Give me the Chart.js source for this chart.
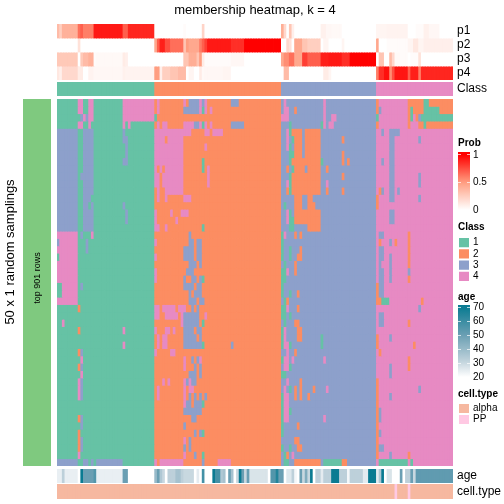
<!DOCTYPE html>
<html>
<head>
<meta charset="utf-8">
<style>
  html, body { margin: 0; padding: 0; background: #fff; }
  #page { position: relative; width: 504px; height: 504px; overflow: hidden; }
  canvas { position: absolute; }
</style>
<script src="https://cdn.jsdelivr.net/npm/chart.js@4/dist/chart.umd.min.js"></script>
</head>
<body>
<div id="page"></div>
<script>
// all run lists are value,endColumn,value,endColumn,...
const annotationNames = ['p1', 'p2', 'p3', 'p4']

const p1Runs = [.35,1,.25,2,.4,8,.65,9,.7,10,.6,14,.92,25,.7,27,.88,37,0,48,.02,49,0,55,.22,56,0,85,.42,86,.2,87,0,88,.3,89,.08,90,0,100,.07,102,.04,104,.03,108,0,121,.05,125,.06,133,0,136,.02,139,.07,141,.04,145,0,150]
const p2Runs = [0,8,.15,9,0,37,.45,38,.7,39,.9,41,.75,43,.65,48,.3,49,.5,50,.45,54,.6,55,.7,56,.8,57,.92,66,.85,71,1,85,0,87,.2,88,.15,89,0,90,.45,93,.3,95,.25,100,0,101,.05,103,0,108,.05,109,0,121,.45,122,0,125,.02,133,.05,135,.12,137,.05,139,.08,150]
const p3Runs = [.28,8,0,9,.28,10,.35,12,.4,14,.02,15,.03,25,.1,26,.08,27,0,48,.3,50,.42,53,.3,54,.5,55,.1,56,.02,66,.04,71,0,85,.45,86,.55,88,.65,90,.45,93,.8,95,.7,100,.9,103,.92,108,.85,111,1,121,0,122,.3,124,0,126,.35,127,.2,128,.03,130,.02,133,0,134,.02,137,.15,138,0,150]
const p4Runs = [.12,1,.08,2,.2,8,.1,10,0,12,.06,14,.04,25,.07,26,.06,37,.5,39,.08,40,.25,43,.3,46,.35,49,0,50,.05,52,0,54,.1,55,.03,56,.04,63,.05,66,0,86,.35,88,0,101,.1,103,.05,104,0,121,.6,122,.85,124,.95,126,.55,127,.75,128,.93,133,.7,134,.9,137,.6,138,.88,150]
const classRuns = [1,37,2,85,3,121,4,150]
const ageRuns = [24,2,32,3,24,8,20,9,70,10,50,14,55,15,24,25,50,27,20,37,40,38,50,39,35,40,30,41,20,42,32,45,37,47,32,48,30,52,20,53,25,54,20,55,58,56,20,59,70,60,58,62,35,63,37,64,20,65,50,66,37,67,20,68,30,69,70,70,50,71,30,72,50,73,27,80,20,81,55,83,65,84,50,86,20,87,26,89,32,90,22,91,20,92,50,93,30,94,45,95,30,96,70,97,20,98,32,100,25,101,32,104,70,107,32,110,22,111,32,116,25,118,70,121,25,122,35,123,70,124,20,125,27,127,20,130,50,131,20,132,32,134,50,135,30,136,52,150]
const cellTypeRuns = [0,128,1,129,0,133,1,134,0,150]

// one line per sampling, top to bottom, predicted class of each sample
const memberRuns = [
  [1,8,4,10,1,12,4,14,1,25,4,37,2,38,4,39,2,48,4,49,2,50,3,54,4,55,3,56,4,57,2,66,3,69,2,85,3,86,4,87,3,101,4,102,3,121,2,122,4,133,2,139,1,141,2,150],
  [1,8,4,10,1,12,4,14,1,25,4,37,2,38,4,39,2,48,3,54,4,55,1,56,4,57,2,58,4,59,2,85,3,86,4,88,3,90,2,91,3,101,4,102,3,121,2,122,3,123,4,133,2,134,1,135,2,139,1,145,2,150],
  [1,9,3,10,4,11,3,12,4,14,1,25,4,37,1,38,2,85,4,88,3,101,4,102,3,104,4,106,3,121,1,122,4,133,2,134,1,135,4,136,2,137,3,138,1,150],
  [1,8,4,10,1,12,4,13,1,25,4,26,1,27,4,28,1,37,2,38,4,39,2,40,4,42,2,48,4,52,3,54,4,55,1,56,4,57,2,58,4,59,2,66,3,71,2,85,3,88,1,89,3,100,1,101,4,102,3,103,4,105,3,121,2,122,4,133,2,134,4,137,2,139,1,140,2,150],
  [3,8,1,10,3,14,1,25,3,26,1,37,4,51,2,56,4,58,2,59,4,63,2,85,3,87,4,88,1,89,2,93,3,94,2,100,3,121,4,123,3,124,4,126,3,130,4,150],
  [3,8,1,10,3,14,1,25,3,27,1,37,4,41,2,42,4,48,2,85,3,87,4,88,3,89,1,90,2,93,3,94,2,100,3,108,2,109,3,121,4,126,3,128,4,137,3,138,4,150],
  [3,8,1,10,3,14,1,26,3,27,1,37,4,48,2,56,4,57,2,85,3,87,4,88,1,89,3,90,2,93,3,94,2,100,3,121,4,126,3,128,4,150],
  [3,8,1,10,3,14,1,26,3,27,1,37,4,48,2,85,3,88,1,90,2,93,3,94,2,100,3,108,2,109,3,121,4,126,3,128,4,150],
  [3,8,1,10,3,14,1,25,3,27,1,37,4,48,2,55,1,56,2,85,3,88,1,89,2,100,1,101,3,108,2,109,3,110,2,111,3,121,4,123,3,124,4,126,3,128,4,150],
  [3,8,1,10,3,14,1,37,4,38,2,39,4,40,2,41,4,48,2,55,1,56,2,57,4,58,2,85,3,87,2,88,3,89,1,90,2,94,3,95,2,100,3,102,2,103,3,121,4,126,3,128,4,150],
  [3,8,1,9,3,14,1,37,4,39,2,40,4,48,2,57,4,58,2,85,3,88,1,89,2,100,3,108,2,109,3,121,4,126,3,128,4,137,3,138,4,150],
  [3,8,1,10,3,14,1,37,4,39,2,40,4,48,2,57,4,58,2,85,3,87,4,88,1,89,2,100,3,102,4,103,3,121,4,126,3,128,4,137,3,138,4,150],
  [3,8,1,10,3,14,1,37,2,38,4,39,2,41,4,48,2,85,3,87,2,88,1,89,2,100,3,102,2,103,3,108,2,109,3,121,4,122,2,123,3,124,4,126,3,128,4,129,3,130,4,150],
  [3,8,1,10,3,13,1,37,2,38,4,39,2,41,4,42,2,48,4,51,2,85,3,90,2,93,3,95,2,97,3,121,2,122,4,126,3,128,4,137,3,138,4,150],
  [3,8,1,10,3,12,1,13,3,14,1,25,3,26,1,37,2,85,3,86,1,87,3,90,2,93,3,95,2,98,3,121,2,122,4,150],
  [3,8,1,10,3,14,1,26,3,27,1,37,4,38,2,43,4,44,2,47,4,50,2,85,3,87,4,88,1,89,3,90,2,100,3,121,4,126,3,128,4,150],
  [3,8,1,10,3,14,1,26,3,27,1,37,4,38,2,45,4,46,2,85,3,87,4,88,1,90,2,100,3,121,4,126,3,128,4,150],
  [3,8,1,10,3,14,1,37,4,39,2,41,4,42,2,55,1,56,2,85,3,88,1,90,3,95,2,100,3,121,4,150],
  [4,8,1,9,3,10,1,13,4,14,1,37,2,50,3,51,2,85,1,86,4,87,3,90,2,91,3,92,2,93,3,121,4,122,3,124,4,133,2,134,4,150],
  [3,1,4,8,1,11,3,12,1,37,4,38,2,50,3,52,2,53,3,55,2,85,1,86,3,121,4,122,2,123,4,126,3,127,4,128,2,129,4,133,2,134,4,150],
  [4,8,1,11,3,12,1,37,2,48,3,52,2,53,3,55,2,85,1,86,3,88,1,89,3,92,2,93,3,121,4,122,3,124,4,133,2,134,4,150],
  [1,1,4,8,1,37,4,38,2,48,3,52,2,53,3,55,2,85,1,86,3,88,1,89,3,91,2,93,3,121,4,122,3,124,4,126,3,127,4,133,2,134,4,150],
  [4,8,1,37,2,50,3,53,2,54,3,55,2,85,3,86,1,87,3,90,2,91,3,121,4,122,3,123,4,126,3,127,4,133,2,134,4,150],
  [4,8,1,37,4,38,2,49,3,52,2,85,1,87,4,88,3,90,2,91,3,121,4,122,3,124,4,126,3,127,4,133,3,134,4,150],
  [4,8,1,37,4,38,2,48,3,49,2,51,3,53,2,54,3,55,1,56,2,85,1,87,3,121,4,122,3,124,4,126,3,127,4,133,2,134,4,150],
  [1,2,4,8,1,9,3,10,1,37,2,48,3,52,2,53,3,55,2,85,1,86,3,121,2,122,3,124,4,150],
  [1,2,4,8,1,37,2,50,3,51,2,52,3,55,2,85,1,86,3,88,1,89,3,91,2,92,3,121,2,122,3,124,4,150],
  [4,8,1,37,2,50,3,53,2,54,3,56,2,85,3,86,1,87,2,88,3,121,2,123,1,126,4,138,2,139,4,150],
  [1,8,2,9,1,37,4,39,2,40,4,45,2,46,4,49,2,51,3,52,2,53,3,54,2,85,1,87,4,88,3,91,2,92,3,121,4,137,3,138,4,150],
  [1,37,4,39,2,41,4,46,2,47,4,48,3,54,2,56,4,57,2,85,1,87,3,88,1,89,3,121,4,122,3,124,4,150],
  [1,2,4,3,1,37,2,47,4,48,3,54,2,55,1,56,2,85,3,86,1,87,3,90,2,92,3,121,4,122,3,124,4,133,2,134,4,150],
  [1,8,2,9,1,25,4,26,1,37,4,38,2,41,4,43,2,44,4,45,2,48,3,52,2,53,3,55,2,85,1,86,4,87,3,91,2,93,3,121,4,150],
  [1,37,2,38,4,39,2,40,4,42,2,48,3,53,2,54,3,55,2,85,1,86,4,87,3,91,2,93,3,100,1,101,3,121,2,122,4,126,3,127,4,150],
  [1,25,4,26,1,37,2,38,4,39,2,40,4,42,2,48,3,55,1,56,2,66,3,67,2,85,1,86,4,88,1,89,3,100,1,101,3,121,2,122,4,135,2,136,4,150],
  [1,8,2,9,3,10,1,37,4,38,2,43,4,45,2,85,3,87,4,88,3,90,2,91,3,121,4,122,2,123,4,150],
  [1,9,4,10,1,37,2,48,4,49,2,51,3,52,2,53,3,54,4,55,2,85,1,86,4,88,3,89,4,90,3,101,4,102,3,121,4,133,2,134,4,150],
  [1,8,2,9,3,10,1,37,2,48,4,49,2,52,3,53,2,54,3,55,2,85,3,86,4,88,1,89,3,121,4,126,3,127,4,133,2,134,4,150],
  [1,9,4,10,1,37,2,50,3,53,2,54,3,55,2,85,1,87,3,121,4,126,3,127,4,150],
  [1,8,4,9,3,10,1,37,2,40,4,41,2,42,4,43,2,48,4,49,3,50,4,51,3,53,2,85,3,87,4,88,3,92,2,93,3,121,2,122,4,150],
  [1,8,4,9,3,10,1,37,2,38,4,39,2,48,4,49,2,50,4,52,2,85,3,86,4,87,3,88,1,89,3,90,2,91,3,92,2,93,3,97,2,98,3,102,4,103,3,121,2,122,4,137,3,138,4,150],
  [1,8,4,9,3,10,1,37,2,38,4,39,2,48,4,49,2,50,3,51,2,52,3,53,2,54,3,55,2,56,3,57,2,85,1,86,4,88,3,90,2,91,3,92,2,93,3,95,2,96,3,121,2,122,4,126,3,127,4,150],
  [1,37,2,48,4,49,3,51,2,52,3,55,1,56,2,85,1,86,4,88,3,121,2,122,4,150],
  [1,37,2,48,3,55,2,85,1,86,4,88,1,89,3,121,2,122,3,123,4,150],
  [1,8,2,9,3,10,1,37,2,51,3,53,2,85,1,86,4,88,3,101,4,102,3,121,2,122,3,123,4,150],
  [1,9,3,10,1,37,2,48,3,49,2,85,1,86,3,91,2,92,3,121,2,122,4,150],
  [1,8,2,9,1,37,2,52,3,53,2,54,3,55,1,56,2,85,1,86,3,121,2,122,3,123,4,150],
  [1,8,2,9,3,10,1,37,2,48,4,49,2,50,3,51,2,85,3,90,2,92,3,121,2,122,4,150],
  [1,8,2,9,3,10,1,37,2,48,3,49,2,50,3,51,2,85,1,86,3,88,1,89,3,91,2,93,3,121,2,122,3,124,4,150],
  [1,8,4,9,1,37,2,48,4,49,2,52,3,53,2,55,1,56,2,85,3,86,1,87,2,88,3,89,4,90,3,121,2,122,4,126,3,127,4,133,2,134,4,150],
  [3,8,1,10,3,12,1,13,3,14,1,15,3,25,1,37,4,38,2,39,4,48,2,55,3,56,2,61,4,66,2,85,3,86,1,88,3,90,2,100,3,101,1,108,2,110,3,121,4,122,1,133,4,134,1,135,4,150]
]

const classNames = ['1', '2', '3', '4']
const cellTypeNames = ['alpha', 'PP']
const probTicks = 0.5
const ageTicks = 10

const classColors = { 1: '#66C2A5', 2: '#FC8D62', 3: '#8DA0CB', 4: '#E78AC3' }
const cellTypeColors = { 0: '#F6B8A0', 1: '#FFC9E3' }
const probStops = [[0, [255, 255, 255]], [0.5, [255, 158, 129]], [1, [255, 0, 0]]]
const ageStops = [[0, [255, 255, 255]], [0.24, [189, 208, 218]], [0.6, [106, 159, 179]], [1, [10, 123, 146]]]

Chart.defaults.font.family = '"Liberation Sans", Arial, sans-serif'
Chart.defaults.color = '#000'
Chart.defaults.animation = false
Chart.defaults.events = []
Chart.defaults.plugins.legend.display = false
Chart.defaults.plugins.tooltip.enabled = false

function expand(runs) {
    const out = []
    for (let i = 0; i < runs.length; i += 2) {
        while (out.length < runs[i + 1]) out.push(runs[i])
    }
    return out
}

function ramp(stops, v) {
    for (let i = 1; i < stops.length; i++) {
        if (v <= stops[i][0]) {
            const a = stops[i - 1], b = stops[i]
            const t = (v - a[0]) / (b[0] - a[0])
            const c = a[1].map((n, k) => Math.round(n + (b[1][k] - n) * t))
            return `rgb(${c[0]},${c[1]},${c[2]})`
        }
    }
    const last = stops[stops.length - 1][1]
    return `rgb(${last[0]},${last[1]},${last[2]})`
}

function addCanvas(x, y, w, h) {
    const c = document.createElement('canvas')
    c.width = w
    c.height = h
    c.style.left = x + 'px'
    c.style.top = y + 'px'
    document.getElementById('page').appendChild(c)
    return c
}

// labels may hang over the plot, the plot keeps its size
function fixAxis(width) {
    return s => {
        s.width = width
        s.paddingTop = 0
        s.paddingBottom = 0
    }
}

// stacked bars: every row is a dataset, every column a category
function heat(box, rows, colorOf, opt = {}) {
    const labels = rows[0].map((_, i) => i)
    const scales = {
        x: { stacked: true, display: false },
        y: { stacked: true, display: false, reverse: true, min: 0, max: rows.length }
    }
    if (opt.names) {
        scales.y2 = {
            type: 'category',
            labels: opt.names,
            position: 'right',
            offset: true,
            border: { display: false },
            grid: { display: false, drawTicks: false },
            ticks: { padding: opt.tickPad || 4, autoSkip: false, font: { size: opt.fontSize || 12 } },
            afterFit: fixAxis(opt.axisWidth)
        }
    }
    return new Chart(addCanvas(box.x, box.y, box.w, box.h), {
        type: 'bar',
        data: {
            labels: labels,
            datasets: rows.map(row => ({
                data: row.map(() => 1),
                backgroundColor: row.map(colorOf),
                barPercentage: 1,
                categoryPercentage: 1,
                inflateAmount: opt.border ? 0 : 0.4,
                borderWidth: opt.border || 0,
                borderColor: 'rgba(255,255,255,0.55)',
                borderSkipped: false
            }))
        },
        options: {
            responsive: false,
            layout: { padding: opt.padding || 0 },
            scales: scales,
            plugins: { title: opt.title || { display: false } }
        },
        plugins: opt.plugins || []
    })
}

function legendTitle(text, gap) {
    return { display: true, text: text, align: 'start', font: { size: 10, weight: 'bold' }, padding: { top: 0, bottom: gap } }
}

function colorbar(box, min, max, stop, toUnit, stops, title, gap, bottom) {
    new Chart(addCanvas(box.x, box.y, box.w, box.h), {
        type: 'bar',
        data: {
            labels: [title],
            datasets: [{
                data: [[min, max]],
                barPercentage: 1,
                categoryPercentage: 1,
                borderWidth: 0,
                backgroundColor: ctx => {
                    const area = ctx.chart.chartArea
                    if (!area) return '#fff'
                    const sc = ctx.chart.scales.y
                    const top = toUnit(max)
                    const g = ctx.chart.ctx.createLinearGradient(0, sc.getPixelForValue(min), 0, sc.getPixelForValue(max))
                    for (let i = 0; i <= 20; i++) {
                        g.addColorStop(i / 20, ramp(stops, Math.min(1, i / 20 * top)))
                    }
                    return g
                }
            }]
        },
        options: {
            responsive: false,
            layout: { padding: { bottom: bottom } },
            scales: {
                x: { display: false },
                y: {
                    position: 'right',
                    min: min,
                    max: max,
                    border: { display: false, dash: [3, 6] },
                    grid: { color: 'rgba(255,255,255,0.7)', z: 1, drawTicks: false },
                    ticks: { stepSize: stop, includeBounds: false, autoSkip: false, padding: 3, font: { size: 10 }, callback: v => String(v) },
                    afterFit: fixAxis(box.w - 12)
                }
            },
            plugins: { title: legendTitle(title, gap) }
        }
    })
}

// rotated labels next to the row annotation
const sideText = {
    id: 'sideText',
    afterDraw(chart) {
        const c = chart.ctx
        c.save()
        c.fillStyle = '#000'
        c.textAlign = 'center'
        c.textBaseline = 'middle'
        c.translate(10, 153)
        c.rotate(-Math.PI / 2)
        c.font = '13px "Liberation Sans"'
        c.fillText('50 x 1 random samplings', 0, 0)
        c.restore()
        c.save()
        c.fillStyle = '#000'
        c.textAlign = 'center'
        c.textBaseline = 'middle'
        c.translate(38, 179)
        c.rotate(-Math.PI / 2)
        c.font = '9px "Liberation Sans"'
        c.fillText('top 901 rows', 0, 0)
        c.restore()
    }
}

const probColor = v => ramp(probStops, v)
const classColor = v => classColors[v]

heat({ x: 0, y: 0, w: 504, h: 80 },
    [p1Runs, p2Runs, p3Runs, p4Runs].map(expand), probColor, {
        names: annotationNames,
        axisWidth: 51,
        padding: { left: 57 },
        title: {
            display: true,
            text: 'membership heatmap, k = 4',
            fullSize: false,
            font: { size: 13, weight: 'normal' },
            padding: { top: 3, bottom: 5.4 }
        }
    })
heat({ x: 57, y: 82, w: 447, h: 14 }, [expand(classRuns)], classColor, { names: ['Class'], axisWidth: 51 })
heat({ x: 57, y: 99, w: 396, h: 367 }, memberRuns.map(expand), classColor)
heat({ x: 57, y: 469, w: 447, h: 14 }, [expand(ageRuns)], a => ramp(ageStops, (a - 20) / 50), { names: ['age'], axisWidth: 51 })
heat({ x: 57, y: 484, w: 447, h: 15 }, [expand(cellTypeRuns)], t => cellTypeColors[t], { names: ['cell.type'], axisWidth: 51 })
heat({ x: 0, y: 99, w: 52, h: 367 }, [[0]], () => '#7FC97F', { padding: { left: 23, right: 1 }, plugins: [sideText] })

colorbar({ x: 458, y: 137, w: 46, h: 81 }, 0, 58 / 55, probTicks, m => m, probStops, 'Prob', 3, 8)
heat({ x: 458, y: 221, w: 46, h: 61 }, classNames.map(n => [Number(n)]), classColor, {
    names: classNames, axisWidth: 34, tickPad: 3, fontSize: 10, border: 1, title: legendTitle('Class', 4)
})
colorbar({ x: 458, y: 291, w: 46, h: 94 }, 20, 20 + 72 / 1.4, ageTicks, m => (m - 20) / 50, ageStops, 'age', 2, 8)
heat({ x: 458, y: 388, w: 46, h: 37 }, [[0], [1]], t => cellTypeColors[t], {
    names: cellTypeNames, axisWidth: 34, tickPad: 3, fontSize: 10, border: 1, title: legendTitle('cell.type', 3)
})
</script>
</body>
</html>
